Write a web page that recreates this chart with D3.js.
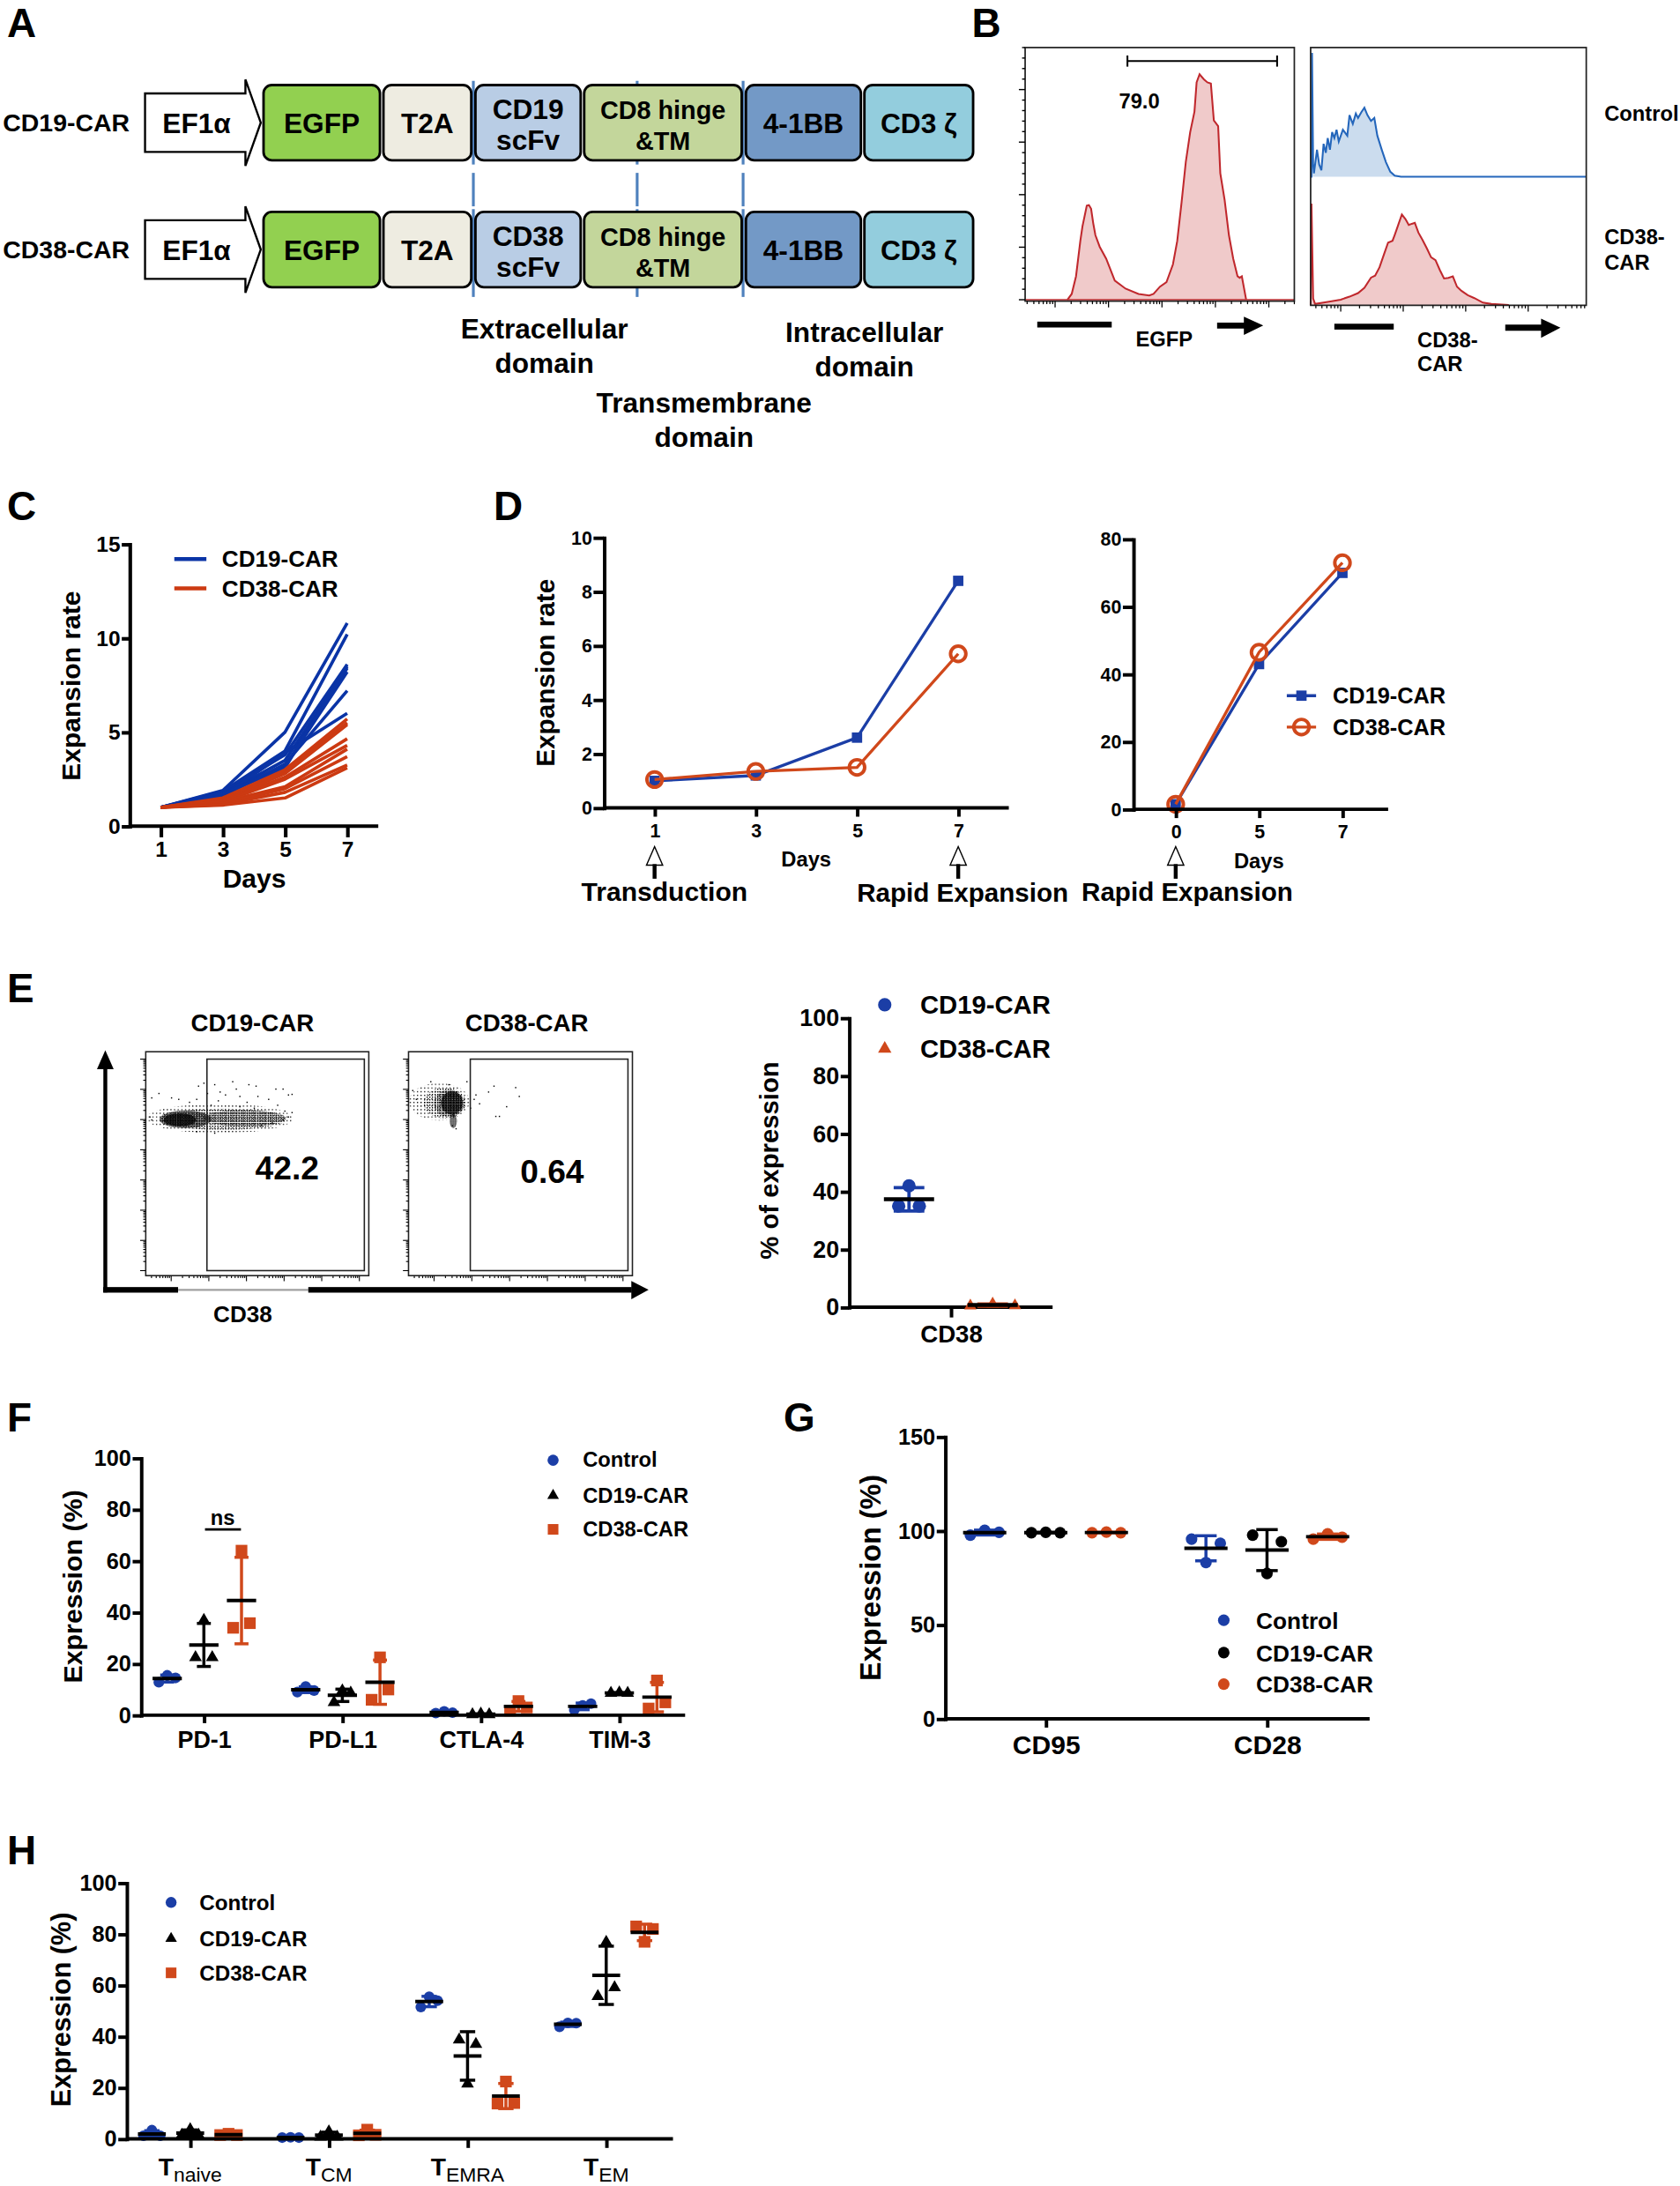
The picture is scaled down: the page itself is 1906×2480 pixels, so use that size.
<!DOCTYPE html>
<html>
<head>
<meta charset="utf-8">
<script src="https://cdn.jsdelivr.net/npm/d3@7/dist/d3.min.js"></script>
<style>
html,body{margin:0;padding:0;background:#fff;}
svg text{font-family:"Liberation Sans",Arial,Helvetica,sans-serif;font-weight:bold;fill:#000;}
</style>
</head>
<body>
<svg id="fig" width="1906" height="2480" viewBox="0 0 1205 1568"></svg>
<script>
// ======================= DATA =======================
// Panel A – CAR constructs
const carRows = ["CD19-CAR", "CD38-CAR"];
const promoter = "EF1α";
const segLabels = [
  [["EGFP"], ["T2A"], ["CD19", "scFv"], ["CD8 hinge", "&TM"], ["4-1BB"], ["CD3 ζ"]],
  [["EGFP"], ["T2A"], ["CD38", "scFv"], ["CD8 hinge", "&TM"], ["4-1BB"], ["CD3 ζ"]]
];
const segColors = ["#92d050", "#eeece1", "#b9cde5", "#c3d69b", "#7399c6", "#93cddd"];
const domainLabels = [["Extracellular", "domain"], ["Intracellular", "domain"], ["Transmembrane", "domain"]];

// Panel B – histograms (channel 0-1000, count 0-100 of frame height)
const egfpCh = [157,173,189,205,213,229,237,245,253,261,277,301,333,373,421,461,477,501,525,549,565,581,597,613,629,637,648,664,677,690,701,717,725,741,757,773,789,797,805,821];
const egfpCount = [0,2.3,9.3,23.3,29.1,37.3,37.5,36.1,30.3,25.6,21,16.3,7.6,4.4,2.3,1.7,2.3,5.2,7,14,23.3,38.5,54.8,66.4,74.6,86.2,89.4,87.4,86.2,85.7,71.1,68.8,50.1,39.6,25.6,16.3,9.3,8.7,9.3,0];
const egfpGate = [380, 936];
const egfpPct = "79.0";
const ctrlCh = [0,3,5,9,12,23,31,39,47,55,62,70,78,86,94,102,117,133,141,153,164,172,184,195,206,219,231,242,258,273,289,305,328,1000];
const ctrlCount = [0,0,95.9,10,2.7,20.9,9.5,5,25.5,18.6,30,20.9,34.5,30,36.4,27.3,36.4,31.8,47.7,40.9,48.9,45.5,50,53.4,47.7,43.2,45.5,31.8,20.9,11.4,3.9,0.9,0,0];
const carCh = [0,3,9,16,62,109,141,172,195,219,234,250,266,281,297,305,320,331,344,356,367,378,391,406,422,437,453,469,484,500,516,531,547,570,594,625,656,719];
const carCount = [0,79,5,0.7,2.3,4.1,6.4,9.2,13.3,21.3,22.9,29.4,39.4,48.6,50,54.6,63.8,70.6,67,62.4,63.3,64,56.4,50.7,44,37.2,34.9,27.1,20.6,21.1,22.2,14.2,11,7.6,5.3,1.8,0.7,0];
const histRowLabels = [["Control"], ["CD38-", "CAR"]];

// Panel C – expansion of individual donors
const cDays = [1, 3, 5, 7];
const cCD19 = [[1,1.9,5.0,10.8],[1,1.85,4.0,10.2],[1,1.8,3.8,8.6],[1,1.7,3.5,8.4],[1,1.75,3.2,8.2],[1,1.6,3.3,7.2],[1,1.6,3.9,6.0],[1,1.7,3.1,8.5]];
const cCD38 = [[1,1.5,3.0,5.7],[1,1.45,2.9,5.5],[1,1.4,2.8,5.4],[1,1.35,2.6,4.65],[1,1.3,2.5,4.3],[1,1.3,2.1,4.1],[1,1.2,2.0,3.7],[1,1.15,1.8,3.25],[1,1.12,1.5,3.1]];
const cYTicks = [0, 5, 10, 15];

// Panel D – mean expansion
const dDays = [1, 3, 5, 7];
const dCD19 = [1.0, 1.2, 2.6, 8.4];
const dCD38 = [1.05, 1.35, 1.5, 5.7];
const dYTicks = [0, 2, 4, 6, 8, 10];
const dRapidDays = ["0", "5", "7"];
const dRapidCD19 = [1.5, 43, 70];
const dRapidCD38 = [1.5, 46.5, 73];
const dRapidYTicks = [0, 20, 40, 60, 80];
const seriesNames = ["CD19-CAR", "CD38-CAR"];

// Panel E – CD38 expression (flow and summary)
const eFlowTitles = ["CD19-CAR", "CD38-CAR"];
const eGatePct = ["42.2", "0.64"];
// cloud ellipses in plot units [cx, cy, rx, ry, density layer]
const eCloud1 = [[205,535,205,50,0],[215,532,175,36,1],[275,536,115,28,2],[110,532,72,30,3],[95,530,45,22,4]];
const eCloud2 = [[85,592,84,64,0],[100,588,58,52,1],[112,586,42,46,2],[120,588,30,40,4],[124,526,10,24,3]];
const eDots1 = [[145,647],[160,657],[190,652],[205,627],[240,662],[250,637],[285,652],[305,647],[360,637],[380,637],[395,617],[405,619],[170,622],[220,617],[260,612],[310,612],[340,602],[280,592],[200,597],[140,602],[120,592],[90,602],[70,607],[35,622],[15,607],[365,582],[385,562],[405,557],[350,522],[320,512],[190,487],[140,492],[300,572],[260,577],[180,582],[10,542],[15,532],[380,532],[395,542]];
const eDots2 = [[185,617],[220,627],[235,647],[295,642],[305,612],[240,544],[250,544],[270,577],[195,587],[160,662],[110,652],[60,662],[10,632],[20,602],[130,502],[120,512],[170,572],[180,602]];
const eCats = ["CD38"];
const eCD19 = [[35, 42, 35]];
const eCD38 = [[0.5, 1.2, 0.6]];
const pctTicks = [0, 20, 40, 60, 80, 100];

// Panel F – exhaustion markers
const fCats = ["PD-1", "PD-L1", "CTLA-4", "TIM-3"];
const fControl = [[12.8, 15.5, 14.5], [9, 11.2, 9.6], [0.8, 1.5, 1.0], [2, 3.8, 4.5]];
const fCD19 = [[22.5, 37, 22.5], [5, 9.5, 8.7], [0.3, 0.5, 0.3], [8.6, 8.8, 8.6]];
const fCD38 = [[34, 64, 35.8], [6, 22.5, 10], [1.8, 5.5, 3.0], [2.6, 13.5, 5]];
const groupNames = ["Control", "CD19-CAR", "CD38-CAR"];

// Panel G – CD95 / CD28
const gCats = ["CD95", "CD28"];
const gControl = [[97.7, 100.3, 99.2], [95.6, 83.1, 93.4]];
const gCD19 = [[99, 99.2, 99], [97.7, 77.3, 94.2]];
const gCD38 = [[99, 99.3, 99], [95.6, 98.4, 96.6]];
const gYTicks = [0, 50, 100, 150];

// Panel H – memory subsets
const hCats = [["T", "naive"], ["T", "CM"], ["T", "EMRA"], ["T", "EM"]];
const hControl = [[1.2, 3.4, 1.2], [0.5, 0.6, 0.5], [51.5, 55.5, 54], [43.8, 45.3, 45.2]];
const hCD19 = [[1.5, 3.7, 1.5], [0.8, 2.8, 0.8], [38.7, 21.5, 37], [55.7, 76.9, 59.1]];
const hCD38 = [[1.5, 2, 1.5], [1.4, 3.6, 1.6], [13.8, 22.4, 14], [83, 77, 82]];

// ======================= STYLE =======================
const BLUE = "#1b3ea6", RED = "#d0481b", BLACK = "#000";
const C_BLUE = "#0a34a6", C_RED = "#cc3a12";
const svg = d3.select("#fig");

function txt(g, x, y, s, size, anchor, extra) {
  const t = g.append("text").attr("x", x).attr("y", y).attr("font-size", size)
    .attr("text-anchor", anchor || "start").text(s);
  if (extra) for (const k in extra) t.attr(k, extra[k]);
  return t;
}
function vtxt(g, x, y, s, size) {
  return g.append("text").attr("transform", `translate(${x},${y}) rotate(-90)`)
    .attr("text-anchor", "middle").attr("font-size", size).text(s);
}
function styleAxis(a, fs, sw) {
  a.attr("font-family", null).attr("font-size", null);
  a.select(".domain").attr("stroke", "#000").attr("stroke-width", sw).attr("stroke-linecap", "square");
  a.selectAll(".tick line").attr("stroke", "#000").attr("stroke-width", sw);
  a.selectAll(".tick text").attr("font-size", fs).attr("fill", "#000");
}
function yAxis(g, scale, x, ticks, fs, o) {
  o = o || {};
  const ax = d3.axisLeft(scale).tickValues(ticks).tickSize(o.ts || 6).tickSizeOuter(0).tickPadding(o.pad == null ? 1 : o.pad);
  const a = g.append("g").attr("transform", `translate(${x},0)`).call(ax);
  styleAxis(a, fs, o.sw || 2.5);
  return a;
}
function xAxisLine(g, y, x0, x1, sw) {
  g.append("line").attr("x1", x0).attr("x2", x1).attr("y1", y).attr("y2", y)
    .attr("stroke", "#000").attr("stroke-width", sw || 2.5);
}
function xAxisTicks(g, scale, y, fs, o) {
  o = o || {};
  const ax = d3.axisBottom(scale).tickSize(o.ts || 6).tickSizeOuter(0).tickPadding(o.pad == null ? 4 : o.pad);
  if (o.values) ax.tickValues(o.values);
  if (o.fmt) ax.tickFormat(o.fmt);
  const a = g.append("g").attr("transform", `translate(0,${y})`).call(ax);
  styleAxis(a, fs, o.sw || 2.5);
  a.select(".domain").remove();
  return a;
}

// ======================= PANEL LABELS =======================
[["A", 5, 26.5], ["B", 697, 26.5], ["C", 5, 373], ["D", 354, 373], ["E", 5, 718.6], ["F", 5, 1027], ["G", 562, 1027], ["H", 5, 1337]]
  .forEach(([l, x, y]) => txt(svg, x, y, l, 29));

// ======================= PANEL A =======================
(function () {
  const g = svg.append("g");
  const rowC = [88, 179];
  const segX = [[189, 272.5], [275, 338], [341, 416.5], [419, 532], [535, 617.5], [620, 698]];
  const segFS = [20, 20, 20, 18.2, 20, 20];
  const dashX = [339.5, 457, 533];
  const dashSeg = [[58, 118], [124, 148], [150, 213]];
  dashX.forEach(x => dashSeg.forEach(([a, b]) => g.append("line").attr("x1", x).attr("x2", x).attr("y1", a).attr("y2", b)
    .attr("stroke", "#4f81bd").attr("stroke-width", 2)));
  carRows.forEach((name, r) => {
    const c = rowC[r];
    txt(g, 2, c + 6, name, 18);
    const pts = [[104, c - 21], [176, c - 21], [176, c - 31], [187, c], [176, c + 31], [176, c + 21], [104, c + 21]];
    g.append("polygon").attr("points", pts.map(p => p.join(",")).join(" "))
      .attr("fill", "#fff").attr("stroke", "#000").attr("stroke-width", 1.5);
    txt(g, 141, c + 7.3, promoter, 20, "middle");
    segLabels[r].forEach((lines, i) => {
      const [x0, x1] = segX[i];
      g.append("rect").attr("x", x0).attr("y", c - 27).attr("width", x1 - x0).attr("height", 54)
        .attr("rx", 6).attr("fill", segColors[i]).attr("stroke", "#000").attr("stroke-width", 1.8);
      const cx = (x0 + x1) / 2;
      if (lines.length === 1) txt(g, cx, c + 7.3, lines[0], segFS[i], "middle");
      else { txt(g, cx, c - 2.7, lines[0], segFS[i], "middle"); txt(g, cx, c + 19.5, lines[1], segFS[i], "middle"); }
    });
  });
  const dl = [[390.5, 243], [620, 245.5], [505, 296]];
  domainLabels.forEach((l, i) => {
    txt(g, dl[i][0], dl[i][1], l[0], 20, "middle");
    txt(g, dl[i][0], dl[i][1] + 24.5, l[1], 20, "middle");
  });
})();

// ======================= PANEL B =======================
(function () {
  const g = svg.append("g");
  function logTicks(x0, x1, y, lo, hi) {
    const s = d3.scaleLog().domain([lo, hi]).range([x0, x1]);
    const tv = s.ticks().filter(d => s(d) >= x0 && s(d) <= x1);
    g.append("g").selectAll("line").data(tv).join("line")
      .attr("x1", d => s(d)).attr("x2", d => s(d)).attr("y1", y)
      .attr("y2", d => y + (Math.abs(Math.log10(d) - Math.round(Math.log10(d))) < 1e-6 ? 4.5 : 2.2))
      .attr("stroke", "#000").attr("stroke-width", 0.8);
  }
  const L = { x0: 735.3, x1: 928.4, y0: 34.1, y1: 216 };
  const lx = d3.scaleLinear().domain([0, 1000]).range([L.x0, L.x1]);
  const ly = d3.scaleLinear().domain([0, 100]).range([215, 34.1]);
  const area = (xs, ys, base) => d3.area().x(d => xs(d[0])).y0(base).y1(d => ys(d[1]));
  const line = (xs, ys) => d3.line().x(d => xs(d[0])).y(d => ys(d[1]));
  const egfp = egfpCh.map((c, i) => [c, egfpCount[i]]);
  g.append("path").datum(egfp).attr("d", area(lx, ly, ly(0))).attr("fill", "#f0caca");
  g.append("path").datum(egfp).attr("d", line(lx, ly)).attr("fill", "none").attr("stroke", "#c0282d").attr("stroke-width", 1.3);
  g.append("line").attr("x1", L.x0).attr("x2", L.x1).attr("y1", ly(0)).attr("y2", ly(0)).attr("stroke", "#c0282d").attr("stroke-width", 1);
  g.append("rect").attr("x", L.x0).attr("y", L.y0).attr("width", L.x1 - L.x0).attr("height", L.y1 - L.y0)
    .attr("fill", "none").attr("stroke", "#222").attr("stroke-width", 1.1);
  const ty = d3.scaleLinear().domain([0, 24]).range([215, 34.1]);
  g.append("g").selectAll("line").data(d3.range(0, 25)).join("line")
    .attr("x1", L.x0).attr("x2", d => L.x0 - (d % 5 === 0 ? 4.5 : 2.2)).attr("y1", d => ty(d)).attr("y2", d => ty(d))
    .attr("stroke", "#000").attr("stroke-width", 0.9);
  logTicks(L.x0, L.x1, L.y1, 2.75, 3.0e5);
  const gy = 43.8;
  g.append("line").attr("x1", lx(egfpGate[0])).attr("x2", lx(egfpGate[1])).attr("y1", gy).attr("y2", gy).attr("stroke", "#000").attr("stroke-width", 1.3);
  egfpGate.forEach(v => g.append("line").attr("x1", lx(v)).attr("x2", lx(v)).attr("y1", gy - 4).attr("y2", gy + 4).attr("stroke", "#000").attr("stroke-width", 1.3));
  txt(g, 802.6, 77.5, egfpPct, 15);

  const R = { x0: 940.1, x1: 1137.8, y0: 34.1, y1: 219 };
  const rx = d3.scaleLinear().domain([0, 1000]).range([R.x0, R.x1]);
  const ry1 = d3.scaleLinear().domain([0, 100]).range([126.8, 34.1]);
  const ry2 = d3.scaleLinear().domain([0, 100]).range([218.7, 126.8]);
  const ctrl = ctrlCh.map((c, i) => [c, ctrlCount[i]]);
  const car = carCh.map((c, i) => [c, carCount[i]]);
  g.append("path").datum(ctrl).attr("d", area(rx, ry1, ry1(0))).attr("fill", "#cbdcee");
  g.append("path").datum(ctrl).attr("d", line(rx, ry1)).attr("fill", "none").attr("stroke", "#2466bb").attr("stroke-width", 1.3);
  g.append("path").datum(car).attr("d", area(rx, ry2, ry2(0))).attr("fill", "#f0caca");
  g.append("path").datum(car).attr("d", line(rx, ry2)).attr("fill", "none").attr("stroke", "#c0282d").attr("stroke-width", 1.3);
  g.append("rect").attr("x", R.x0).attr("y", R.y0).attr("width", R.x1 - R.x0).attr("height", R.y1 - R.y0)
    .attr("fill", "none").attr("stroke", "#222").attr("stroke-width", 1.1);
  logTicks(R.x0, R.x1, R.y1, 3.3, 8.5e4);
  txt(g, 1150.8, 86.4, histRowLabels[0][0], 15);
  txt(g, 1150.8, 175, histRowLabels[1][0], 15);
  txt(g, 1150.8, 193.4, histRowLabels[1][1], 15);
  g.append("rect").attr("x", 744).attr("y", 230.7).attr("width", 53.4).attr("height", 4.2);
  g.append("polygon").attr("points", "873,231.4 892.2,231.4 892.2,227.1 906.1,233.5 892.2,240.2 892.2,235.6 873,235.6");
  txt(g, 835, 248.2, "EGFP", 15, "middle");
  g.append("rect").attr("x", 957.1).attr("y", 232.2).attr("width", 42.6).attr("height", 4.2);
  g.append("polygon").attr("points", "1079.7,232.8 1105.4,232.8 1105.4,228.6 1119.3,235 1105.4,242.3 1105.4,237.2 1079.7,237.2");
  txt(g, 1016.7, 249.3, "CD38-", 15);
  txt(g, 1016.7, 266.5, "CAR", 15);
})();

// ======================= PANEL C =======================
(function () {
  const g = svg.append("g");
  const x = d3.scaleLinear().domain([0, 8]).range([92.9, 271.3]);
  const y = d3.scaleLinear().domain([0, 15]).range([592.6, 390.3]);
  const ln = d3.line().x((d, i) => x(cDays[i])).y(d => y(d));
  cCD19.forEach(s => g.append("path").datum(s).attr("d", ln).attr("fill", "none").attr("stroke", C_BLUE).attr("stroke-width", 2.3).attr("stroke-linejoin", "round"));
  cCD38.forEach(s => g.append("path").datum(s).attr("d", ln).attr("fill", "none").attr("stroke", C_RED).attr("stroke-width", 2.3).attr("stroke-linejoin", "round"));
  yAxis(g, y, x(0), cYTicks, 15.5, { ts: 5.6, sw: 2.6, pad: 1 });
  xAxisLine(g, y(0), x(0), x(8), 2.6);
  xAxisTicks(g, x, y(0), 15.5, { values: cDays, ts: 8, pad: 3, sw: 2.6 });
  txt(g, 182.4, 636.4, "Days", 19, "middle");
  vtxt(g, 57.6, 492, "Expansion rate", 19);
  [C_BLUE, C_RED].forEach((c, i) => {
    const ly = [401, 422][i];
    g.append("line").attr("x1", 125).attr("x2", 148).attr("y1", ly).attr("y2", ly).attr("stroke", c).attr("stroke-width", 2.8);
    txt(g, 159.2, ly + 5.8, seriesNames[i], 16.5);
  });
})();

// ======================= PANEL D =======================
function drawSeries(g, xs, ys, xv, vals, kind, color) {
  const ln = d3.line().x((d, i) => xs(xv[i])).y(d => ys(d));
  g.append("path").datum(vals).attr("d", ln).attr("fill", "none").attr("stroke", color).attr("stroke-width", 2.1);
  vals.forEach((v, i) => marker(g, xs(xv[i]), ys(v), kind, color));
}
function marker(g, cx, cy, kind, color) {
  if (kind === "sq") g.append("rect").attr("x", cx - 3.7).attr("y", cy - 3.7).attr("width", 7.4).attr("height", 7.4).attr("fill", color);
  else g.append("circle").attr("cx", cx).attr("cy", cy).attr("r", 5.5).attr("fill", "none").attr("stroke", color).attr("stroke-width", 2.5);
}
function openArrow(g, x, yTop) {
  g.append("polygon").attr("points", `${x},${yTop} ${x + 5.8},${yTop + 13.3} ${x - 5.8},${yTop + 13.3}`)
    .attr("fill", "#fff").attr("stroke", "#000").attr("stroke-width", 0.9);
  g.append("rect").attr("x", x - 1.4).attr("y", yTop + 12.5).attr("width", 2.8).attr("height", 10.5).attr("fill", "#000");
}
(function () {
  const g = svg.append("g");
  const x = d3.scaleLinear().domain([0, 8]).range([433.2, 723.6]);
  const y = d3.scaleLinear().domain([0, 10]).range([579.5, 385.6]);
  drawSeries(g, x, y, dDays, dCD19, "sq", BLUE);
  drawSeries(g, x, y, dDays, dCD38, "circ", RED);
  yAxis(g, y, x(0), dYTicks, 13.5, { ts: 7.5, sw: 2.5, pad: 1 });
  xAxisLine(g, y(0), x(0), x(8), 2.5);
  xAxisTicks(g, x, y(0), 13.5, { values: dDays, ts: 6.3, pad: 5, sw: 2.5 });
  txt(g, 578.3, 621.6, "Days", 15, "middle");
  vtxt(g, 397.7, 482.6, "Expansion rate", 18.8);
  [1, 7].forEach(d => openArrow(g, x(d), 607.3));
  txt(g, 476.6, 645.9, "Transduction", 19, "middle");
  txt(g, 690.5, 647, "Rapid Expansion", 18.7, "middle");

  const x2 = d3.scalePoint().domain(dRapidDays).range([843.3, 962.9]);
  const y2 = d3.scaleLinear().domain([0, 80]).range([580.5, 386.7]);
  drawSeries(g, x2, y2, dRapidDays, dRapidCD19, "sq", BLUE);
  drawSeries(g, x2, y2, dRapidDays, dRapidCD38, "circ", RED);
  yAxis(g, y2, 812.9, dRapidYTicks, 13.5, { ts: 7.5, sw: 2.5, pad: 1 });
  xAxisLine(g, y2(0), 812.9, 995.7, 2.5);
  xAxisTicks(g, x2, y2(0), 13.5, { ts: 6.3, pad: 5, sw: 2.5 });
  txt(g, 903, 622.7, "Days", 15, "middle");
  openArrow(g, x2("0"), 607.3);
  txt(g, 851.6, 645.9, "Rapid Expansion", 18.7, "middle");
  [[BLUE, "sq"], [RED, "circ"]].forEach(([c, k], i) => {
    const ly = [499, 521.5][i];
    g.append("line").attr("x1", 923).attr("x2", 944).attr("y1", ly).attr("y2", ly).attr("stroke", c).attr("stroke-width", 2.1);
    marker(g, 933.5, ly, k, c);
    txt(g, 956, ly + 5.5, seriesNames[i], 16);
  });
})();

// ======================= DOT PLOT HELPER =======================
function dotPlot(g, cats, series, xs, ys, o) {
  series.forEach((s, si) => {
    cats.forEach((c, ci) => {
      const vals = s.values[ci];
      const cx = xs(c) + o.offsets[si];
      g.append("g").selectAll("path").data(vals).join("path")
        .attr("d", d3.symbol(s.shape, s.size))
        .attr("transform", (d, i) => `translate(${cx + o.jitter[i]},${ys(d)})`)
        .attr("fill", s.color);
    });
  });
  series.forEach((s, si) => {
    cats.forEach((c, ci) => {
      const vals = s.values[ci];
      const cx = xs(c) + o.offsets[si];
      const m = d3.mean(vals), sd = d3.deviation(vals);
      const lo = ys(m - sd), hi = ys(m + sd);
      g.append("line").attr("x1", cx).attr("x2", cx).attr("y1", lo).attr("y2", hi).attr("stroke", s.color).attr("stroke-width", o.barW || 2.2);
      [lo, hi].forEach(yy => g.append("line").attr("x1", cx - o.cap).attr("x2", cx + o.cap).attr("y1", yy).attr("y2", yy)
        .attr("stroke", s.color).attr("stroke-width", o.barW || 2.2));
      g.append("line").attr("x1", cx - o.meanHalf).attr("x2", cx + o.meanHalf).attr("y1", ys(m)).attr("y2", ys(m))
        .attr("stroke", "#000").attr("stroke-width", o.meanW || 2.5);
    });
  });
}
function legend(g, items, x, ys, tx, dy, fs) {
  items.forEach((it, i) => {
    g.append("path").attr("d", d3.symbol(it.shape, it.lsize || it.size)).attr("transform", `translate(${x},${ys[i]})`).attr("fill", it.color);
    txt(g, tx, ys[i] + dy, it.name, fs);
  });
}

// ======================= PANEL E =======================
(function () {
  const g = svg.append("g");
  const defs = svg.append("defs");
  const dens = [[2.6, 0.8], [1.9, 0.85], [1.5, 0.85], [1.2, 0.9], [1.0, 0.85]];
  dens.forEach(([w, s], i) => {
    const p = defs.append("pattern").attr("id", "speck" + i).attr("width", w).attr("height", w).attr("patternUnits", "userSpaceOnUse");
    p.append("rect").attr("width", s).attr("height", s).attr("fill", "#000");
  });
  const frames = [{ x0: 104.5, x1: 264.5, gx: 148.4, cloud: eCloud1, dots: eDots1, tc: 181 },
                  { x0: 293, x1: 453.6, gx: 337.3, cloud: eCloud2, dots: eDots2, tc: 377.8 }];
  const fy0 = 754.4, fy1 = 915;
  frames.forEach((f, k) => {
    const xs = d3.scaleLinear().domain([0, 620]).range([f.x0, f.x1]);
    const ys = d3.scaleLinear().domain([0, 762]).range([fy1, fy0]);
    g.append("rect").attr("x", f.x0).attr("y", fy0).attr("width", f.x1 - f.x0).attr("height", fy1 - fy0)
      .attr("fill", "none").attr("stroke", "#222").attr("stroke-width", 1);
    f.cloud.forEach(([cx, cy, rx, ry, layer]) => g.append("ellipse").attr("cx", xs(cx)).attr("cy", ys(cy))
      .attr("rx", xs(cx + rx) - xs(cx)).attr("ry", ys(cy) - ys(cy + ry)).attr("fill", `url(#speck${layer})`));
    g.append("g").selectAll("rect").data(f.dots).join("rect")
      .attr("x", d => xs(d[0])).attr("y", d => ys(d[1])).attr("width", 0.9).attr("height", 0.9).attr("fill", "#000");
    g.append("rect").attr("x", f.gx).attr("y", 759.7).attr("width", f.x1 - 3.2 - f.gx).attr("height", 151.7)
      .attr("fill", "none").attr("stroke", "#222").attr("stroke-width", 1);
    const ly = d3.scaleLog().domain([1, 1e7]).range([911.4, 759.7]);
    g.append("g").selectAll("line").data(ly.ticks()).join("line")
      .attr("x1", f.x0).attr("x2", d => f.x0 - (Math.abs(Math.log10(d) % 1) < 1e-6 ? 4 : 1.8))
      .attr("y1", d => ly(d)).attr("y2", d => ly(d)).attr("stroke", "#000").attr("stroke-width", 0.7);
    const lx = d3.scaleLog().domain([0.25, 1.5e5]).range([f.x0 + 2, f.x1 - 2]);
    g.append("g").selectAll("line").data(lx.ticks()).join("line")
      .attr("x1", d => lx(d)).attr("x2", d => lx(d)).attr("y1", fy1)
      .attr("y2", d => fy1 + (Math.abs(Math.log10(d) % 1) < 1e-6 ? 4 : 1.8)).attr("stroke", "#000").attr("stroke-width", 0.7);
    txt(g, f.tc, 739.7, eFlowTitles[k], 17.5, "middle");
    txt(g, k === 0 ? 205.9 : 396, k === 0 ? 846.1 : 848.2, eGatePct[k], 23.5, "middle");
  });
  g.append("line").attr("x1", 75.5).attr("x2", 75.5).attr("y1", 927).attr("y2", 766).attr("stroke", "#000").attr("stroke-width", 2.8);
  g.append("polygon").attr("points", "69.5,767 81.5,767 75.5,753.4");
  g.append("rect").attr("x", 74).attr("y", 923.2).attr("width", 53.7).attr("height", 4);
  g.append("line").attr("x1", 127.7).attr("x2", 221.1).attr("y1", 925.2).attr("y2", 925.2).attr("stroke", "#a0a0a0").attr("stroke-width", 1.4);
  g.append("rect").attr("x", 221.1).attr("y", 923.2).attr("width", 232).attr("height", 4);
  g.append("polygon").attr("points", "452.8,918.8 465.2,925.2 452.8,932");
  txt(g, 174.1, 948.3, "CD38", 16.5, "middle");

  const xs = d3.scalePoint().domain(eCats).range([609, 755]).padding(0.5);
  const ys = d3.scaleLinear().domain([0, 100]).range([937.7, 730.2]);
  const series = [
    { name: seriesNames[0], values: eCD19, shape: d3.symbolCircle, size: 72, color: BLUE },
    { name: seriesNames[1], values: eCD38, shape: d3.symbolTriangle, size: 34, lsize: 40, color: RED }
  ];
  yAxis(g, ys, 609, pctTicks, 17, { ts: 6, sw: 2.5, pad: 1 });
  xAxisLine(g, ys(0), 609, 755, 2.5);
  xAxisTicks(g, xs, ys(0), 17.5, { ts: 7.3, pad: 5.6, sw: 2.5 });
  [[series[0], -30, [-7.4, 0, 7.4]], [series[1], 30, [-16, 0, 16]]].forEach(([s, off, jit]) => {
    dotPlot(g, eCats, [s], xs, ys, { offsets: [off], jitter: jit, cap: 11, meanHalf: 18, barW: 2.4, meanW: 2.8 });
  });
  vtxt(g, 558.3, 832.4, "% of expression", 18.5);
  legend(g, series, 634.6, [720.7, 752.3], 660, 6.5, 18.5);
})();

// ======================= PANEL F =======================
(function () {
  const g = svg.append("g");
  const xs = d3.scalePoint().domain(fCats).range([146.2, 444.2]);
  const ys = d3.scaleLinear().domain([0, 100]).range([1230.3, 1045.9]);
  const series = [
    { name: groupNames[0], values: fControl, shape: d3.symbolCircle, size: 46, lsize: 50, color: BLUE },
    { name: groupNames[1], values: fCD19, shape: d3.symbolTriangle, size: 36, lsize: 30, color: BLACK },
    { name: groupNames[2], values: fCD38, shape: d3.symbolSquare, size: 70, lsize: 58, color: RED }
  ];
  dotPlot(g, fCats, series, xs, ys, { offsets: [-26.3, 0, 27], jitter: [-6, 0, 6], cap: 5, meanHalf: 10.5 });
  yAxis(g, ys, 101.1, pctTicks, 16, { ts: 6, sw: 2.5, pad: 1 });
  xAxisLine(g, ys(0), 101.1, 491.4, 2.5);
  xAxisTicks(g, xs, ys(0), 17, { ts: 5.7, pad: 5.8, sw: 2.5 });
  vtxt(g, 58.5, 1138, "Expression (%)", 19.2);
  legend(g, series, 396.7, [1047.4, 1072.7, 1097], 418, 5, 15);
  g.append("line").attr("x1", 147).attr("x2", 172.8).attr("y1", 1097).attr("y2", 1097).attr("stroke", "#000").attr("stroke-width", 1.8);
  txt(g, 159.7, 1093.8, "ns", 15, "middle");
})();

// ======================= PANEL G =======================
(function () {
  const g = svg.append("g");
  const xs = d3.scalePoint().domain(gCats).range([750.1, 908.8]);
  const ys = d3.scaleLinear().domain([0, 150]).range([1232.9, 1030.6]);
  const series = [
    { name: groupNames[0], values: gControl, shape: d3.symbolCircle, size: 54, color: BLUE },
    { name: groupNames[1], values: gCD19, shape: d3.symbolCircle, size: 54, color: BLACK },
    { name: groupNames[2], values: gCD38, shape: d3.symbolCircle, size: 54, color: RED }
  ];
  dotPlot(g, gCats, series, xs, ys, { offsets: [-43.8, 0, 43.5], jitter: [-10.3, 0, 10.3], cap: 7.7, meanHalf: 15.5 });
  yAxis(g, ys, 677.9, gYTicks, 16, { ts: 6, sw: 2.5, pad: 1 });
  xAxisLine(g, ys(0), 677.9, 982.4, 2.5);
  xAxisTicks(g, xs, ys(0), 19, { ts: 6.3, pad: 5.4, sw: 2.5 });
  vtxt(g, 631.5, 1131.7, "Expression (%)", 20.5);
  legend(g, series, 877.8, [1162.2, 1185.4, 1208], 901, 6.2, 16.6);
})();

// ======================= PANEL H =======================
(function () {
  const g = svg.append("g");
  const catKeys = hCats.map(c => c.join(""));
  const xs = d3.scalePoint().domain(catKeys).range([136.4, 434.8]);
  const ys = d3.scaleLinear().domain([0, 100]).range([1534.2, 1350.6]);
  const series = [
    { name: groupNames[0], values: hControl, shape: d3.symbolCircle, size: 46, lsize: 48, color: BLUE },
    { name: groupNames[1], values: hCD19, shape: d3.symbolTriangle, size: 36, lsize: 30, color: BLACK },
    { name: groupNames[2], values: hCD38, shape: d3.symbolSquare, size: 70, lsize: 58, color: RED }
  ];
  dotPlot(g, catKeys, series, xs, ys, { offsets: [-27.5, 0, 27.5], jitter: [-6, 0, 6], cap: 5.5, meanHalf: 10 });
  yAxis(g, ys, 90.8, pctTicks, 16, { ts: 6, sw: 2.5, pad: 1 });
  xAxisLine(g, ys(0), 90.8, 482.7, 2.5);
  xAxisTicks(g, xs, ys(0), 16, { ts: 6.5, pad: 4, sw: 2.5, fmt: () => "" });
  hCats.forEach((c, i) => {
    const t = g.append("text").attr("x", xs(catKeys[i])).attr("y", 1560.5).attr("text-anchor", "middle");
    t.append("tspan").attr("font-size", 17.8).text(c[0]);
    t.append("tspan").attr("font-size", 14.5).attr("font-weight", "normal").attr("dy", 4.2).text(c[1]);
  });
  vtxt(g, 50.3, 1441.5, "Expression (%)", 19.3);
  legend(g, series, 122.7, [1364.6, 1390.5, 1415.1], 143, 5.3, 15.3);
})();
</script>
</body>
</html>
